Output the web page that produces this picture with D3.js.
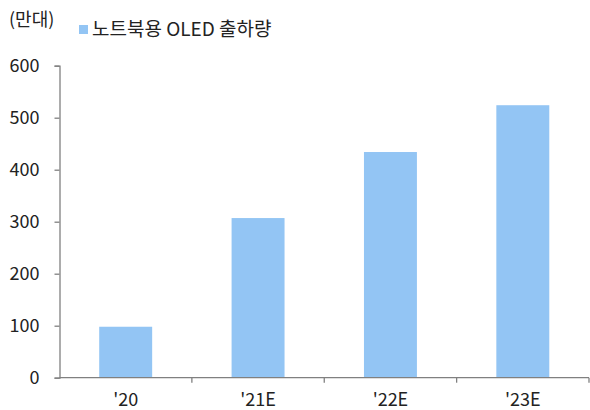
<!DOCTYPE html>
<html>
<head>
<meta charset="utf-8">
<script src="https://cdn.jsdelivr.net/npm/d3@7"></script>
<style>
  body { margin: 0; background: #fff; }
  text { font-family: "Noto Sans CJK KR", "Noto Sans", sans-serif; fill: #222; }
</style>
</head>
<body>
<svg id="chart"></svg>
<script>
// chart data
var categories = ["'20", "'21E", "'22E", "'23E"];
var shipments = [98, 307, 434, 524];
var yTicks = [0, 100, 200, 300, 400, 500, 600];
var unitLabel = "(만대)";
var seriesName = "노트북용 OLED 출하량";

var width = 590, height = 410;
var margin = {left: 59.5, right: 1, top: 65.7, bottom: 32.3};

var svg = d3.select("#chart").attr("width", width).attr("height", height);

var x = d3.scaleBand()
    .domain(categories)
    .range([margin.left, width - margin.right])
    .paddingInner(0.6)
    .paddingOuter(0.3);

var y = d3.scaleLinear()
    .domain([0, 600])
    .range([height - margin.bottom, margin.top]);

// bars
svg.selectAll(".bar")
    .data(shipments)
    .enter()
    .append("rect")
    .attr("class", "bar")
    .attr("x", function(d, i) { return x(categories[i]); })
    .attr("y", function(d) { return y(d); })
    .attr("width", x.bandwidth())
    .attr("height", function(d) { return y(0) - y(d); })
    .attr("fill", "#93c5f4");

// y axis
var yAxis = svg.append("g")
    .attr("transform", "translate(" + margin.left + ",0)")
    .call(d3.axisLeft(y).tickValues(yTicks).tickSize(5).tickPadding(15));
yAxis.select(".domain").attr("stroke", "#808080").attr("stroke-width", 1.3);
yAxis.selectAll(".tick line").attr("stroke", "#808080").attr("stroke-width", 1.3);
yAxis.selectAll(".tick text")
    .style("font-size", "18px")
    .attr("fill", "#222");

// x axis, ticks sit between categories
var xAxisG = svg.append("g").attr("transform", "translate(0," + y(0) + ")");
xAxisG.append("line")
    .attr("x1", margin.left).attr("x2", width - margin.right)
    .attr("stroke", "#808080").attr("stroke-width", 1.3);
var step = x.step();
xAxisG.selectAll(".sep")
    .data(categories)
    .enter()
    .append("line")
    .attr("class", "sep")
    .attr("x1", function(d) { return x(d) + x.bandwidth() / 2 + step / 2; })
    .attr("x2", function(d) { return x(d) + x.bandwidth() / 2 + step / 2; })
    .attr("y1", 0).attr("y2", 5)
    .attr("stroke", "#808080").attr("stroke-width", 1.3);
xAxisG.selectAll(".cat")
    .data(categories)
    .enter()
    .append("text")
    .attr("class", "cat")
    .attr("x", function(d) { return x(d) + x.bandwidth() / 2; })
    .attr("y", 28)
    .attr("text-anchor", "middle")
    .style("font-size", "18px")
    .text(function(d) { return d; });

// unit label
svg.append("text")
    .attr("x", 9)
    .attr("y", 26)
    .style("font-size", "18px")
    .text(unitLabel);

// legend
svg.append("rect")
    .attr("x", 79).attr("y", 25)
    .attr("width", 9).attr("height", 9)
    .attr("fill", "#93c5f4");
svg.append("text")
    .attr("x", 92)
    .attr("y", 36)
    .style("font-size", "19px")
    .text(seriesName);
</script>
</body>
</html>
